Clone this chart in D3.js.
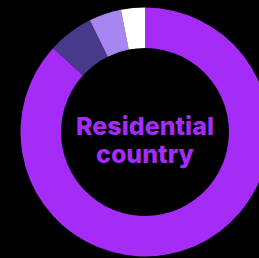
<!DOCTYPE html>
<html>
<head>
<meta charset="utf-8">
<script src="https://cdn.jsdelivr.net/npm/d3@7"></script>
<style>
  html, body { margin: 0; padding: 0; background: #000; }
</style>
</head>
<body>
<div id="vis"></div>
<script>
////////setting up/////////////////////////////////////////
var width = 259
var height = 258

// data
const categories = ["Main country", "Second", "Third", "Other"];
const shares = [86.8, 5.9, 4.2, 3.1];
const colours = ["#a42cf6", "#473a8b", "#a886f1", "#ffffff"];
const labelLines = ["Residential", "country"];

const cx = 145, cy = 132;
const outerR = 124.5, innerR = 84;

const svg = d3.select("#vis")
  .append("svg")
  .attr("width", width)
  .attr("height", height)
  .style("background", "#000");

const pie = d3.pie().sort(null).value(d => d.value);
const arc = d3.arc().innerRadius(innerR).outerRadius(outerR);

const rows = categories.map((c, i) => ({ name: c, value: shares[i], colour: colours[i] }));

const g = svg.append("g").attr("transform", `translate(${cx},${cy})`);

g.selectAll("path")
  .data(pie(rows))
  .join("path")
  .attr("d", arc)
  .attr("fill", d => d.data.colour);

////////centre label/////////////////////////////////////
g.append("text")
  .attr("text-anchor", "middle")
  .attr("font-family", "Inter, sans-serif")
  .attr("font-weight", 800)
  .attr("font-size", 25)
  .attr("fill", colours[0])
  .selectAll("tspan")
  .data(labelLines)
  .join("tspan")
  .attr("x", 0)
  .attr("y", (d, i) => 3 + i * 28)
  .text(d => d);
</script>
</body>
</html>
